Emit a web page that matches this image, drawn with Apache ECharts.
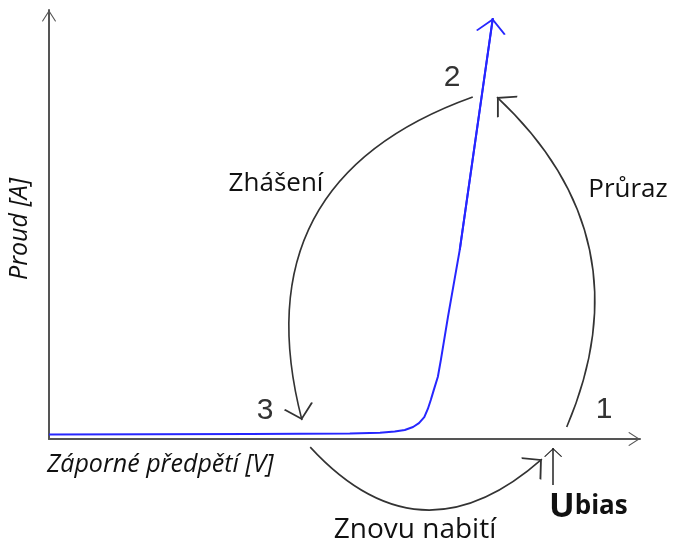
<!DOCTYPE html>
<html>
<head>
<meta charset="utf-8">
<script src="https://cdn.jsdelivr.net/npm/echarts@6/dist/echarts.min.js"></script>
<style>
	html, body { margin: 0; padding: 0; background: #fff; }
	#chart { width: 675px; height: 549px; }
</style>
</head>
<body>
<div id="chart"></div>
<script>
// I-V curve of the diode (x = reverse bias, y = current), arbitrary units 0..100
var voltage = [0, 34, 50.9, 56, 58.5, 60.2, 61.6, 62.6, 63.5, 64.1, 64.6, 65.1, 65.8, 66.3, 67.5, 69.5, 75.1];
var current = [1.05, 1.17, 1.28, 1.47, 1.75, 2.1, 2.8, 3.7, 5.1, 7.0, 9.1, 11.4, 14.5, 18.4, 28.4, 44.1, 98.1];

// cycle arrows: [start, end] in the same units
var breakdownArrow = [[87.6, 2.8], [75.8, 79.7]];
var quenchArrow = [[71.7, 79.7], [42.8, 4.4]];
var rechargeArrow = [[44.2, -1.9], [83.4, -4.7]];
var biasArrow = [[85.3, -10.7], [85.3, -2.1]];

var pointLabels = ['1', '2', '3'];

// open chevron, tip sits in the middle of the box
var chevron = 'path://M10,0 L10,0.01 Z M10,15 L19,29 L18,30 L10,17.5 L2,30 L1,29 Z';

function renderChart() {
	var myChart = echarts.init(document.getElementById('chart'));

	var curve = [];
	for (var i = 0; i < voltage.length; i++) {
		curve.push([voltage[i], current[i]]);
	}
	var n = curve.length;

	var axisLine = {
		show: true,
		onZero: true,
		symbol: ['none', chevron],
		symbolSize: [14, 26],
		lineStyle: { color: '#555', width: 2 }
	};

	var textFont = '"Open Sans", "Noto Sans", sans-serif';

	var option = {
		animation: false,
		grid: { left: 49, right: 35, top: 10, bottom: 110 },
		xAxis: {
			type: 'value', min: 0, max: 100,
			axisLine: axisLine,
			axisTick: { show: false },
			axisLabel: { show: false },
			splitLine: { show: false }
		},
		yAxis: {
			type: 'value', min: 0, max: 100,
			axisLine: axisLine,
			axisTick: { show: false },
			axisLabel: { show: false },
			splitLine: { show: false }
		},
		series: [
			{
				type: 'line',
				data: curve,
				showSymbol: false,
				lineStyle: { color: '#2626ff', width: 2 }
			},
			{
				// arrow head at the top of the curve
				type: 'lines',
				coordinateSystem: 'cartesian2d',
				symbol: ['none', chevron],
				symbolSize: [10, 30],
				lineStyle: { color: '#2626ff', width: 2, opacity: 1 },
				data: [{ coords: [curve[n - 2], curve[n - 1]] }]
			},
			{
				type: 'lines',
				coordinateSystem: 'cartesian2d',
				clip: false,
				symbol: ['none', chevron],
				symbolSize: [18, 30],
				lineStyle: { color: '#333', width: 1.6, opacity: 1 },
				data: [
					{ coords: breakdownArrow, lineStyle: { curveness: -0.35 } },
					{ coords: quenchArrow, lineStyle: { curveness: -0.457 } },
					{ coords: rechargeArrow, lineStyle: { curveness: -0.49 } }
				]
			},
			{
				type: 'lines',
				coordinateSystem: 'cartesian2d',
				clip: false,
				symbol: ['none', chevron],
				symbolSize: [8, 18],
				lineStyle: { color: '#222', width: 1.5, opacity: 1 },
				data: [{ coords: biasArrow }]
			}
		],
		graphic: [
			{ type: 'text', x: 604, y: 410, style: { text: pointLabels[0], font: '30px "Liberation Sans", Arial', fill: '#333', textAlign: 'center', textVerticalAlign: 'middle' } },
			{ type: 'text', x: 452, y: 78, style: { text: pointLabels[1], font: '30px "Liberation Sans", Arial', fill: '#333', textAlign: 'center', textVerticalAlign: 'middle' } },
			{ type: 'text', x: 265, y: 411, style: { text: pointLabels[2], font: '30px "Liberation Sans", Arial', fill: '#333', textAlign: 'center', textVerticalAlign: 'middle' } },
			{ type: 'text', x: 276, y: 184, style: { text: 'Zhášení', font: '26px ' + textFont, fill: '#111', textAlign: 'center', textVerticalAlign: 'middle' } },
			{ type: 'text', x: 628, y: 190, style: { text: 'Průraz', font: '26px ' + textFont, fill: '#111', textAlign: 'center', textVerticalAlign: 'middle' } },
			{ type: 'text', x: 415, y: 530, style: { text: 'Znovu nabití', font: '28px ' + textFont, fill: '#111', textAlign: 'center', textVerticalAlign: 'middle' } },
			{ type: 'text', x: 47, y: 465, style: { text: 'Záporné předpětí [V]', font: 'italic 25px ' + textFont, fill: '#111', textAlign: 'left', textVerticalAlign: 'middle' } },
			{ type: 'text', x: 20, y: 229, rotation: Math.PI / 2, style: { text: 'Proud [A]', font: 'italic 25px ' + textFont, fill: '#111', textAlign: 'center', textVerticalAlign: 'middle' } },
			{
				type: 'text', x: 549, y: 524,
				style: {
					text: '{u|U}{b|bias}',
					textAlign: 'left', textVerticalAlign: 'bottom',
					rich: {
						u: { font: 'bold 34px ' + textFont, fill: '#111' },
						b: { font: 'bold 26px ' + textFont, fill: '#111' }
					}
				}
			}
		]
	};

	myChart.setOption(option);
}

renderChart();
</script>
</body>
</html>
